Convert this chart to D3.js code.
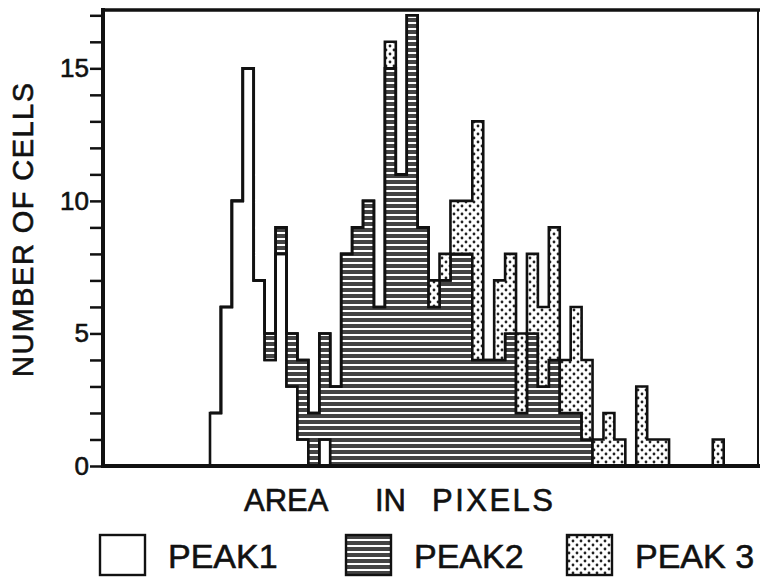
<!DOCTYPE html>
<html>
<head>
<meta charset="utf-8">
<script src="https://cdn.jsdelivr.net/npm/d3@7"></script>
<style>
  body { margin: 0; background: #fff; }
  svg text { font-family: "Liberation Sans", Arial, sans-serif; fill: #111; stroke: #111; stroke-width: 0.6px; }
</style>
</head>
<body>
<div class="histo"></div>
<script>
// histogram bins (index along the area axis), counts per peak
var bins = d3.range(47);
var peak1 = [2, 6, 10, 15, 7, 4, 8, 3, 1, 0, 1, 0, 0, 0, 0, 0, 0, 0, 0, 0, 0, 0, 0, 0,
             0, 0, 0, 0, 0, 0, 0, 0, 0, 0, 0, 0, 0, 0, 0, 0, 0, 0, 0, 0, 0, 0, 0];
var peak2 = [0, 0, 0, 0, 0, 1, 1, 2, 3, 2, 4, 3, 8, 9, 10, 6, 15, 11, 17, 9, 6, 7, 8, 8,
             4, 4, 4, 5, 2, 5, 3, 4, 2, 2, 1, 0, 0, 0, 0, 0, 0, 0, 0, 0, 0, 0, 0];
var peak3 = [0, 0, 0, 0, 0, 0, 0, 0, 0, 0, 0, 0, 0, 0, 0, 0, 1, 0, 0, 0, 1, 1, 2, 2,
             9, 0, 3, 3, 3, 3, 3, 5, 2, 4, 3, 1, 2, 1, 0, 3, 1, 1, 0, 0, 0, 0, 1];
var yTicks = d3.range(0, 18);
var yLabelTicks = [0, 5, 10, 15];
var legendLabels = ["PEAK1", "PEAK2", "PEAK 3"];

var svgWidth = 760;
var svgHeight = 579;

var svg = d3.select(".histo")
  .append("svg")
  .attr("width", svgWidth)
  .attr("height", svgHeight);

svg.append("rect").attr("width", svgWidth).attr("height", svgHeight).attr("fill", "#fff");

// fill patterns: plain, horizontal stripes, stipple
var defs = svg.append("defs");
var stripes = defs.append("pattern")
  .attr("id", "stripes")
  .attr("patternUnits", "userSpaceOnUse")
  .attr("width", 8).attr("height", 6);
stripes.append("rect").attr("width", 8).attr("height", 6).attr("fill", "#fff");
stripes.append("rect").attr("y", 0).attr("width", 8).attr("height", 4).attr("fill", "#444");

var dots = defs.append("pattern")
  .attr("id", "dots")
  .attr("patternUnits", "userSpaceOnUse")
  .attr("width", 8).attr("height", 8);
dots.append("rect").attr("width", 8).attr("height", 8).attr("fill", "#fff");
dots.append("circle").attr("cx", 2).attr("cy", 2).attr("r", 1.4).attr("fill", "#222");
dots.append("circle").attr("cx", 6).attr("cy", 6).attr("r", 1.4).attr("fill", "#222");

var fills = ["#fff", "url(#stripes)", "url(#dots)"];

var xScale = d3.scaleLinear().domain([-9.79, 50.23]).range([103, 759]);
var yScale = d3.scaleLinear().domain([0, 17.2]).range([466, 10]);

// build the stack table, with a closing row so the last step has a right edge
var table = bins.map(function(b, i) {
  return { bin: b, p1: peak1[i], p2: peak2[i], p3: peak3[i] };
});
var last = table[table.length - 1];
table.push({ bin: last.bin + 1, p1: last.p1, p2: last.p2, p3: last.p3 });

var stacked = d3.stack().keys(["p1", "p2", "p3"])(table);

var area = d3.area()
  .x(function(d) { return xScale(d.data.bin); })
  .y0(function(d) { return yScale(d[0]); })
  .y1(function(d) { return yScale(d[1]); })
  .curve(d3.curveStepAfter);

svg.append("g").selectAll("path")
  .data(stacked)
  .enter().append("path")
  .attr("d", area)
  .attr("fill", function(d, i) { return fills[i]; })
  .attr("stroke", "#111")
  .attr("stroke-width", 2.6)
  .attr("stroke-linejoin", "miter");

// y axis ticks
var yAxis = d3.axisLeft(yScale)
  .tickValues(yTicks)
  .tickSize(13)
  .tickPadding(1)
  .tickFormat(function(d) { return yLabelTicks.indexOf(d) >= 0 ? d : ""; });

var yG = svg.append("g").attr("transform", "translate(103,0)").call(yAxis);
yG.select(".domain").remove();
yG.selectAll(".tick line").attr("stroke", "#111").attr("stroke-width", 2.5);
yG.selectAll(".tick text").style("font-size", "26px").attr("fill", "#111");

// frame
var frame = svg.append("g").attr("stroke", "#111").attr("fill", "none");
frame.append("line").attr("x1", 103).attr("x2", 103).attr("y1", 8).attr("y2", 468).attr("stroke-width", 4);
frame.append("line").attr("x1", 101).attr("x2", 760).attr("y1", 466).attr("y2", 466).attr("stroke-width", 4);
frame.append("line").attr("x1", 101).attr("x2", 760).attr("y1", 10).attr("y2", 10).attr("stroke-width", 3.5);
frame.append("line").attr("x1", 758).attr("x2", 758).attr("y1", 10).attr("y2", 466).attr("stroke-width", 2);

// axis titles
svg.append("text")
  .attr("transform", "translate(33,230) rotate(-90)")
  .attr("text-anchor", "middle")
  .attr("textLength", 294)
  .attr("lengthAdjust", "spacing")
  .style("font-size", "29px")
  .text("NUMBER OF CELLS");

var xTitle = svg.append("g").style("font-size", "31px");
xTitle.append("text").attr("x", 244).attr("y", 511).text("AREA");
xTitle.append("text").attr("x", 375).attr("y", 511).text("IN");
xTitle.append("text").attr("x", 432).attr("y", 511).attr("textLength", 121).text("PIXELS");

// legend
var legendX = [100, 346, 567];
var legend = svg.append("g").selectAll("g")
  .data(legendLabels)
  .enter().append("g")
  .attr("transform", function(d, i) { return "translate(" + legendX[i] + ",535)"; });
legend.append("rect")
  .attr("width", 45).attr("height", 40)
  .attr("fill", function(d, i) { return fills[i]; })
  .attr("stroke", "#111").attr("stroke-width", 2.4);
legend.append("text")
  .attr("x", 68).attr("y", 33)
  .style("font-size", "34px")
  .text(function(d) { return d; });
</script>
</body>
</html>
